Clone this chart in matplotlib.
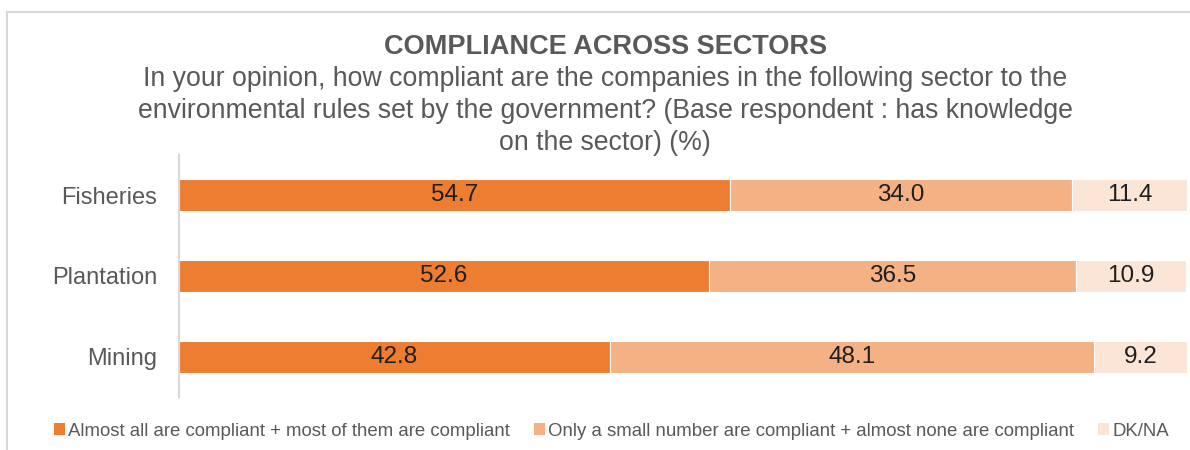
import matplotlib
matplotlib.use("Agg")
import matplotlib.pyplot as plt
from matplotlib.patches import Patch
from matplotlib.lines import Line2D

plt.rcParams['font.family'] = ['Liberation Sans', 'DejaVu Sans']

categories = ["Fisheries", "Plantation", "Mining"]
compliant = [54.7, 52.6, 42.8]
not_compliant = [34.0, 36.5, 48.1]
dkna = [11.4, 10.9, 9.2]
series_names = ["Almost all are compliant + most of them are compliant",
                "Only a small number are compliant + almost none are compliant",
                "DK/NA"]
colors = ["#ED7D31", "#F4B183", "#FBE5D6"]
title = "COMPLIANCE ACROSS SECTORS"
subtitle = ("In your opinion, how compliant are the companies in the following sector to the\n"
            "environmental rules set by the government? (Base respondent : has knowledge\n"
            "on the sector) (%)")

W, H = 1190, 450
fig = plt.figure(figsize=(W / 100, H / 100), dpi=100)
ax = fig.add_axes([179 / W, 1 - 397 / H, (1187 - 179) / W, (397 - 155) / H])

y = list(range(len(categories)))
left = [0.0] * len(categories)
for vals, col, name in zip([compliant, not_compliant, dkna], colors, series_names):
    ax.barh(y, vals, left=left, height=0.40, color=col, edgecolor="white",
            linewidth=0.8, label=name)
    for yi, v, l in zip(y, vals, left):
        ax.text(l + v / 2, yi, f"{v:.1f}", ha="center", va="center",
                fontsize=17.5, color="#1F1F1F")
    left = [a + b for a, b in zip(left, vals)]

ax.set_xlim(0, 100.1)
ax.set_ylim(2.5, -0.5)
ax.set_yticks(y)
ax.set_yticklabels(categories, fontsize=17, color="#595959")
ax.tick_params(axis="y", length=0, pad=15.5)
ax.set_xticks([])
for s in ["top", "right", "bottom"]:
    ax.spines[s].set_visible(False)
ax.spines["left"].set_color("#D9D9D9")
ax.spines["left"].set_linewidth(1.5)

fig.text(605 / W, 1 - 47 / H, title, ha="center", va="center", fontsize=19.5,
         fontweight="bold", color="#595959")
fig.text(605 / W, 1 - 111 / H, subtitle, ha="center", va="center", fontsize=19.2,
         color="#595959", linespacing=1.29)

handles = [Patch(facecolor=c, edgecolor="none") for c in colors]
fig.legend(handles, series_names, loc="center", bbox_to_anchor=(611.5 / W, 1 - 431 / H),
           ncol=3, frameon=False, fontsize=13.4, handlelength=0.6, handleheight=0.6,
           handletextpad=0.15, columnspacing=1.3, labelcolor="#595959")

# chart frame
fig.add_artist(Line2D([7 / W, 7 / W], [0, 1 - 12 / H], transform=fig.transFigure,
                      color="#D9D9D9", linewidth=1.5))
fig.add_artist(Line2D([7 / W, 1], [1 - 12 / H, 1 - 12 / H], transform=fig.transFigure,
                      color="#D9D9D9", linewidth=1.5))

fig.savefig("out.png", dpi=100, facecolor="white")
